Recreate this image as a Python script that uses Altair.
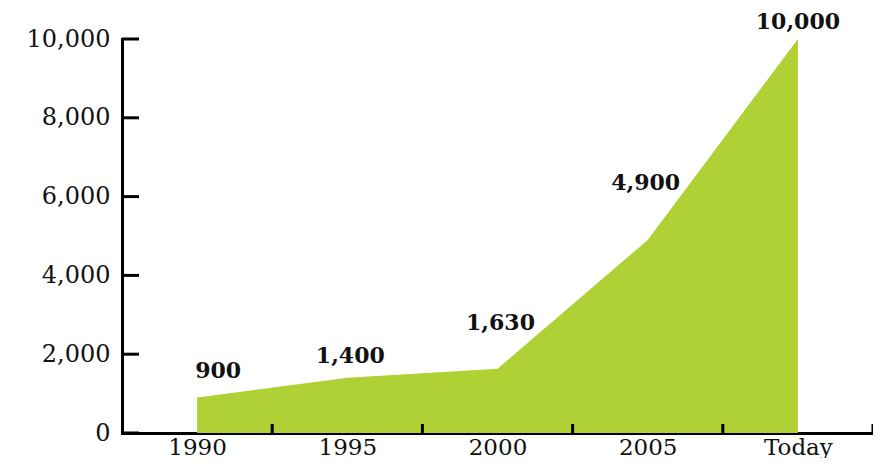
import altair as alt
import pandas as pd

# ---- data ----
categories = ["1990", "1995", "2000", "2005", "Today"]
values = [900, 1400, 1630, 4900, 10000]
y_ticks = [0, 2000, 4000, 6000, 8000, 10000]

# ---- style ----
W, H = 751, 394
FONT = "DejaVu Serif"
GREEN = "#b0d136"
INK = "#111111"
label_offsets = [(21, -27), (3, -22), (3, -46), (-2, -57), (0, -17)]

df = pd.DataFrame({"idx": list(range(len(categories))), "cat": categories, "value": values})
ticks_df = pd.DataFrame({"v": y_ticks})

label_expr = "[" + ",".join("'%s'" % c for c in categories) + "][datum.value]"

x_scale = alt.Scale(domain=[-0.5, len(categories) - 0.5], nice=False, zero=False)
y_scale = alt.Scale(domain=[0, 10000], nice=False)

x_axis = alt.Axis(title=None, values=list(range(len(categories))), labelExpr=label_expr,
                  ticks=False, grid=False, domainColor="black", domainWidth=3,
                  domainCap="square", labelFont=FONT, labelFontSize=23,
                  labelColor=INK, labelPadding=3, labelAngle=0)
y_axis = alt.Axis(title=None, values=y_ticks, labelExpr="format(datum.value, ',')",
                  ticks=False, grid=False,
                  domainColor="black", domainWidth=3, domainCap="square",
                  labelFont=FONT, labelFontSize=24, labelColor=INK, labelPadding=12)

area = alt.Chart(df).mark_area(color=GREEN, opacity=1).encode(
    x=alt.X("idx:Q", scale=x_scale, axis=x_axis),
    y=alt.Y("value:Q", scale=y_scale, axis=y_axis),
)

y_tick_rules = alt.Chart(ticks_df).mark_rule(color="black", strokeWidth=3).encode(
    y=alt.Y("v:Q", scale=y_scale, axis=y_axis),
    x=alt.value(0),
    x2=alt.value(17),
)

x_tick_rules = alt.Chart(df).transform_calculate(edge="datum.idx + 0.5").mark_rule(
    color="black", strokeWidth=3
).encode(
    x=alt.X("edge:Q", scale=x_scale, axis=x_axis),
    y=alt.value(H),
    y2=alt.value(H - 9),
)

texts = []
for cat, (dx, dy) in zip(categories, label_offsets):
    texts.append(
        alt.Chart(df).transform_filter(alt.datum.cat == cat).mark_text(
            font=FONT, fontWeight="bold", fontSize=22, color=INK,
            baseline="middle", align="center", dx=dx, dy=dy
        ).encode(
            x=alt.X("idx:Q", scale=x_scale, axis=x_axis),
            y=alt.Y("value:Q", scale=y_scale, axis=y_axis),
            text=alt.Text("value:Q", format=","),
        )
    )

chart = alt.layer(area, y_tick_rules, x_tick_rules, *texts).properties(
    width=W, height=H,
    background="white",
    autosize=alt.AutoSizeParams(type="none"),
    padding={"left": 114, "top": 31, "right": 0, "bottom": 25},
).configure_view(stroke=None)

chart.save("out.html", embed_options={"renderer": "svg", "actions": False})
